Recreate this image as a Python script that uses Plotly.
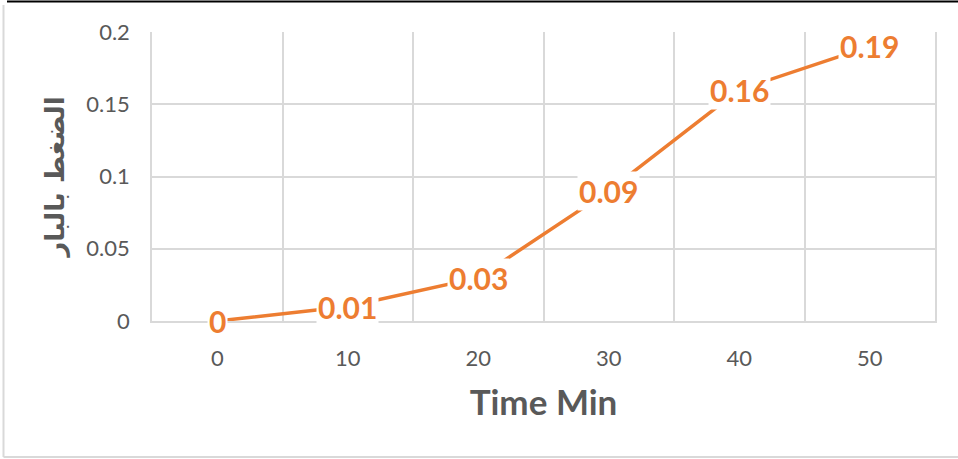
import plotly.graph_objects as go

# Pressure (bar) measured against elapsed time (minutes)
time_min = [0, 10, 20, 30, 40, 50]
pressure_bar = [0, 0.01, 0.03, 0.09, 0.16, 0.19]
y_ticks = [0, 0.05, 0.1, 0.15, 0.2]
y_tick_text = ["0", "0.05", "0.1", "0.15", "0.2"]

ORANGE = "#ED7D31"
GRID = "#D9D9D9"
TEXT = "#595959"
FONT = "Lato, 'DejaVu Sans', sans-serif"

W, H = 958, 459
L, R, T, B = 152, 23, 32, 138
PW, PH = W - L - R, H - T - B


def px_x(p):
    return (p - L) / PW


def px_y(p):
    return (H - B - p) / PH


fig = go.Figure()
fig.add_trace(go.Scatter(
    x=time_min, y=pressure_bar, mode="lines",
    line=dict(color=ORANGE, width=3.5),
    hoverinfo="skip", showlegend=False,
))

# value labels centred on each point, with a white box over the line
for xv, yv in zip(time_min, pressure_bar):
    fig.add_annotation(
        x=xv, y=yv, xref="x", yref="y", text=f"<b>{yv:g}</b>",
        showarrow=False, bgcolor="white", borderpad=1,
        font=dict(family=FONT, size=30, color=ORANGE),
        xanchor="center", yanchor="middle",
    )

# outer frame of the chart
fig.add_shape(type="line", xref="paper", yref="paper",
              x0=px_x(7), x1=px_x(958), y0=px_y(1.5), y1=px_y(1.5),
              line=dict(color="black", width=2))
fig.add_shape(type="line", xref="paper", yref="paper",
              x0=px_x(3.5), x1=px_x(3.5), y0=px_y(5), y1=px_y(457),
              line=dict(color=GRID, width=2))
fig.add_shape(type="line", xref="paper", yref="paper",
              x0=px_x(3.5), x1=px_x(958), y0=px_y(457), y1=px_y(457),
              line=dict(color=GRID, width=2))

fig.update_layout(
    width=W, height=H,
    margin=dict(l=L, r=R, t=T, b=B),
    paper_bgcolor="white", plot_bgcolor="white",
    font=dict(family=FONT, color=TEXT),
    xaxis=dict(
        range=[-5, 55], tickmode="array", tickvals=time_min,
        ticktext=[str(t) for t in time_min],
        showgrid=False, zeroline=False, ticks="",
        showline=True, linecolor=GRID, linewidth=1.5,
        tickfont=dict(size=22, color=TEXT), ticklabelstandoff=17,
        minor=dict(tickmode="array", tickvals=[5, 15, 25, 35, 45],
                   showgrid=True, gridcolor=GRID, gridwidth=1.5, ticks=""),
        title=dict(text="<b>Time Min</b>", font=dict(size=35, color=TEXT),
                   standoff=20),
        fixedrange=True,
    ),
    yaxis=dict(
        range=[0, 0.2], tickmode="array", tickvals=y_ticks,
        ticktext=y_tick_text,
        showgrid=True, gridcolor=GRID, gridwidth=1.5, zeroline=False,
        showline=True, mirror=True, linecolor=GRID, linewidth=1.5, ticks="",
        tickfont=dict(size=22, color=TEXT), ticklabelstandoff=16,
        title=dict(text="<b>الضغط بالبار</b>",
                   font=dict(size=26, color=TEXT, family="'DejaVu Sans', sans-serif"),
                   standoff=14),
        fixedrange=True,
    ),
)

fig.write_html("out.html")
